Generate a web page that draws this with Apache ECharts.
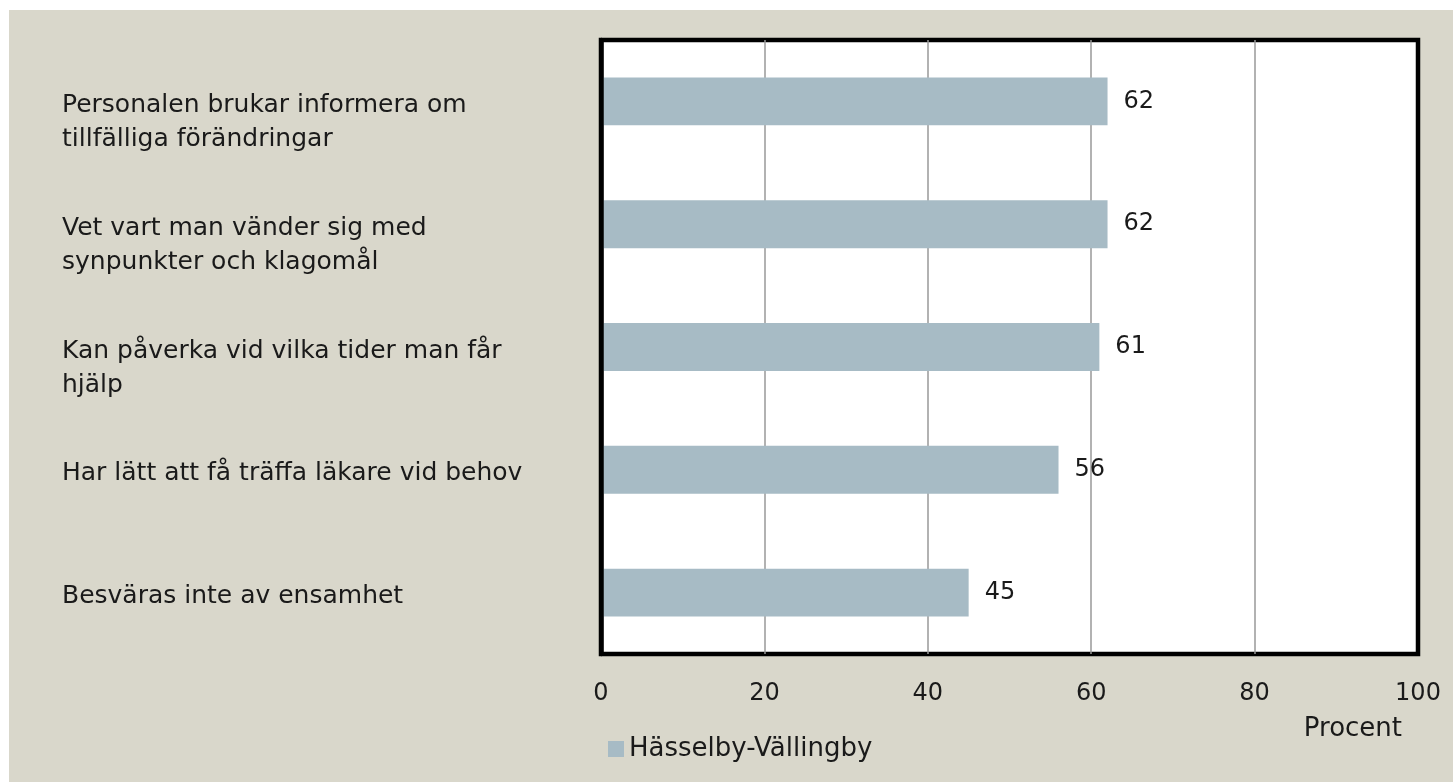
<!DOCTYPE html>
<html>
<head>
<meta charset="utf-8">
<script src="https://cdn.jsdelivr.net/npm/echarts@6/dist/echarts.min.js"></script>
<style>
html,body{margin:0;padding:0;background:#ffffff;width:1453px;height:782px;overflow:hidden;}
#chart{position:absolute;left:9px;top:10px;width:1444px;height:772px;}
</style>
</head>
<body>
<div id="chart"></div>
<script>
const categories = [
  "Personalen brukar informera om\ntillfälliga förändringar",
  "Vet vart man vänder sig med\nsynpunkter och klagomål",
  "Kan påverka vid vilka tider man får\nhjälp",
  "Har lätt att få träffa läkare vid behov",
  "Besväras inte av ensamhet"
];
const seriesName = "Hässelby-Vällingby";
const values = [62, 62, 61, 56, 45];
const xTicks = [0, 20, 40, 60, 80, 100];
const axisTitle = "Procent";

const FONT = "DejaVu Sans";
const LINE_H = 34;
const gridColors = xTicks.map(function (t, i) { return (i === 0 || i === xTicks.length - 1) ? '#000000' : '#999999'; });

// Excel places the first line of a wrapped label near the band centre; emulate with a spacer line
const richSpacers = {};
function labelFormatter(v) {
  const lines = v.split('\n');
  const key = 'sp' + lines.length;
  return '{' + key + '| }\n' + lines.map(function (l) { return '{t|' + l + '}'; }).join('\n');
}
[1, 2, 3].forEach(function (n) {
  richSpacers['sp' + n] = {fontSize: 1, lineHeight: 8 + LINE_H * (n - 1)};
});

const chart = echarts.init(document.getElementById('chart'), null, {renderer: 'canvas'});
chart.setOption({
  backgroundColor: '#d9d7cb',
  animation: false,
  textStyle: {fontFamily: FONT},
  legend: {
    data: [seriesName],
    left: 594,
    top: 721,
    icon: 'rect',
    itemWidth: 16,
    itemHeight: 16,
    itemGap: 6,
    textStyle: {fontFamily: FONT, fontSize: 26, color: '#1a1a1a'}
  },
  grid: {
    left: 592, right: 35, top: 30, bottom: 128,
    show: true,
    backgroundColor: '#ffffff',
    borderColor: '#000000',
    borderWidth: 4.5,
    containLabel: false
  },
  xAxis: {
    type: 'value',
    min: xTicks[0],
    max: xTicks[xTicks.length - 1],
    interval: xTicks[1] - xTicks[0],
    name: axisTitle,
    nameLocation: 'end',
    nameGap: -16,
    nameTextStyle: {fontFamily: FONT, fontSize: 26, color: '#1a1a1a', align: 'right', verticalAlign: 'top', padding: [62, 0, 0, 0]},
    axisLine: {show: false},
    axisTick: {show: false},
    axisLabel: {fontFamily: FONT, fontSize: 24, color: '#1a1a1a', margin: 28},
    splitLine: {show: true, lineStyle: {color: gridColors, width: 1.5}}
  },
  yAxis: {
    type: 'category',
    inverse: true,
    data: categories,
    z: 5,
    axisLine: {show: true, lineStyle: {color: '#000000', width: 4.5}},
    axisTick: {show: false},
    axisLabel: {
      fontFamily: FONT,
      fontSize: 25,
      color: '#1a1a1a',
      align: 'left',
      verticalAlign: 'middle',
      margin: 539,
      formatter: labelFormatter,
      rich: Object.assign({
        t: {fontFamily: FONT, fontSize: 25, color: '#1a1a1a', lineHeight: LINE_H}
      }, richSpacers)
    }
  },
  series: [{
    name: seriesName,
    type: 'bar',
    data: values,
    barWidth: '39%',
    itemStyle: {color: '#a7bbc5'},
    label: {
      show: true,
      position: 'right',
      distance: 16,
      fontFamily: FONT,
      fontSize: 24,
      color: '#1a1a1a'
    }
  }]
});
</script>
</body>
</html>
